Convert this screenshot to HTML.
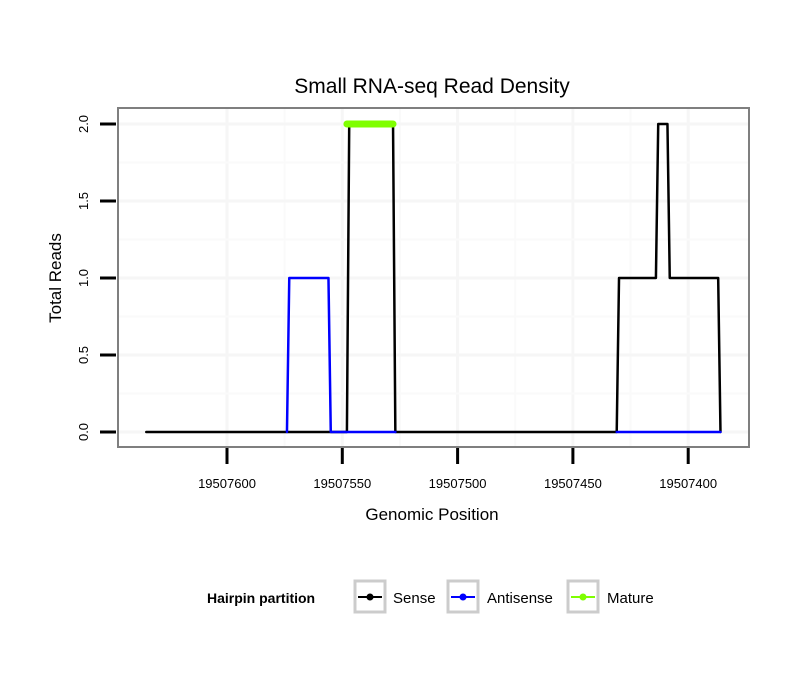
<!DOCTYPE html>
<html><head><meta charset="utf-8"><style>
body{margin:0;background:#fff;}
svg text{font-family:"Liberation Sans",sans-serif;}
</style></head><body>
<svg id="chart" width="810" height="690">
<text x="432" y="93" font-size="21" text-anchor="middle">Small RNA-seq Read Density</text>
<rect x="118" y="108" width="631" height="339" fill="#fff" stroke="#7f7f7f" stroke-width="2"/>
<g id="grid"></g>
<g id="axes"></g>
<g id="series"></g>
<text x="432" y="520" font-size="17" text-anchor="middle">Genomic Position</text>
<text transform="translate(61,278) rotate(-90)" font-size="17" text-anchor="middle">Total Reads</text>
<g>
<text x="207" y="603" font-size="14" font-weight="bold">Hairpin partition</text>
<g><rect x="355" y="581" width="30" height="31" fill="#fff" stroke="#ccc" stroke-width="3"/><line x1="358" y1="597" x2="382" y2="597" stroke="#000" stroke-width="2"/><circle cx="370" cy="597" r="3.5" fill="#000"/><text x="393" y="603" font-size="15">Sense</text></g>
<g><rect x="448" y="581" width="30" height="31" fill="#fff" stroke="#ccc" stroke-width="3"/><line x1="451" y1="597" x2="475" y2="597" stroke="#00f" stroke-width="2"/><circle cx="463" cy="597" r="3.5" fill="#00f"/><text x="487" y="603" font-size="15">Antisense</text></g>
<g><rect x="568" y="581" width="30" height="31" fill="#fff" stroke="#ccc" stroke-width="3"/><line x1="571" y1="597" x2="595" y2="597" stroke="#7fff00" stroke-width="2"/><circle cx="583" cy="597" r="3.5" fill="#7fff00"/><text x="607" y="603" font-size="15">Mature</text></g>
</g>
</svg>
<script>
const xTicks=[19507600,19507550,19507500,19507450,19507400];
const yTicks=[0,0.5,1,1.5,2];
const senseX=[19507635,19507548,19507547,19507528,19507527,19507431,19507430,19507414,19507413,19507409,19507408,19507387,19507386];
const senseY=[0,0,2,2,0,0,1,1,2,2,1,1,0];
const antiX=[19507574,19507573,19507556,19507555,19507527];
const antiY=[0,1,1,0,0];
const anti2X=[19507431,19507386];
const anti2Y=[0,0];
const matureX=[19507548,19507528];
const matureY=[2,2];
const NS="http://www.w3.org/2000/svg";
const sx=v=>227+(19507600-v)*2.306;
const sy=v=>432-v*154;
function mk(t,a,p){const e=document.createElementNS(NS,t);for(const k in a)e.setAttribute(k,a[k]);p.appendChild(e);return e;}
const grid=document.getElementById('grid'),axes=document.getElementById('axes'),ser=document.getElementById('series');
xTicks.forEach((v,i)=>{
 const g=mk('line',{x1:sx(v),x2:sx(v),y1:109,y2:446,stroke:'#f6f6f6','stroke-width':3},grid);
 
 
 if(i<xTicks.length-1){const m=mk('line',{x1:(sx(v)+sx(xTicks[i+1]))/2,x2:(sx(v)+sx(xTicks[i+1]))/2,y1:109,y2:446,stroke:'#fafafa','stroke-width':2},grid);
 
 }
 const t=mk('line',{x1:sx(v),x2:sx(v),y1:448,y2:464,stroke:'#000','stroke-width':3},axes);
 
 
 const l=mk('text',{x:sx(v),y:488,'font-size':13,'text-anchor':'middle'},axes);l.textContent=v;
 
 
});
yTicks.forEach((v,i)=>{
 const g=mk('line',{x1:119,x2:748,y1:sy(v),y2:sy(v),stroke:'#f6f6f6','stroke-width':3},grid);
 
 
 if(i<yTicks.length-1){const m=mk('line',{x1:119,x2:748,y1:sy(v+0.25),y2:sy(v+0.25),stroke:'#fafafa','stroke-width':2},grid);
 
 }
 const t=mk('line',{x1:100,x2:116,y1:sy(v),y2:sy(v),stroke:'#000','stroke-width':3},axes);
 
 
 const l=mk('text',{transform:`translate(88,${sy(v)}) rotate(-90)`,'font-size':13,'text-anchor':'middle'},axes);l.textContent=v.toFixed(1);
 
 
});
function line(xs,ys,col,w,name){
 const p=mk('polyline',{points:xs.map((x,i)=>sx(x)+','+sy(ys[i])).join(' '),fill:'none',stroke:col,'stroke-width':w,'stroke-linejoin':'round','stroke-linecap':'round'},ser);
 
 
}
line(senseX,senseY,'#000',2.5,'sense-line');
line(antiX,antiY,'#00f',2.5,'antisense-line');
line(anti2X,anti2Y,'#00f',2.5,'antisense-line-2');
line(matureX,matureY,'#7fff00',7,'mature-line');
</script>
</body></html>
